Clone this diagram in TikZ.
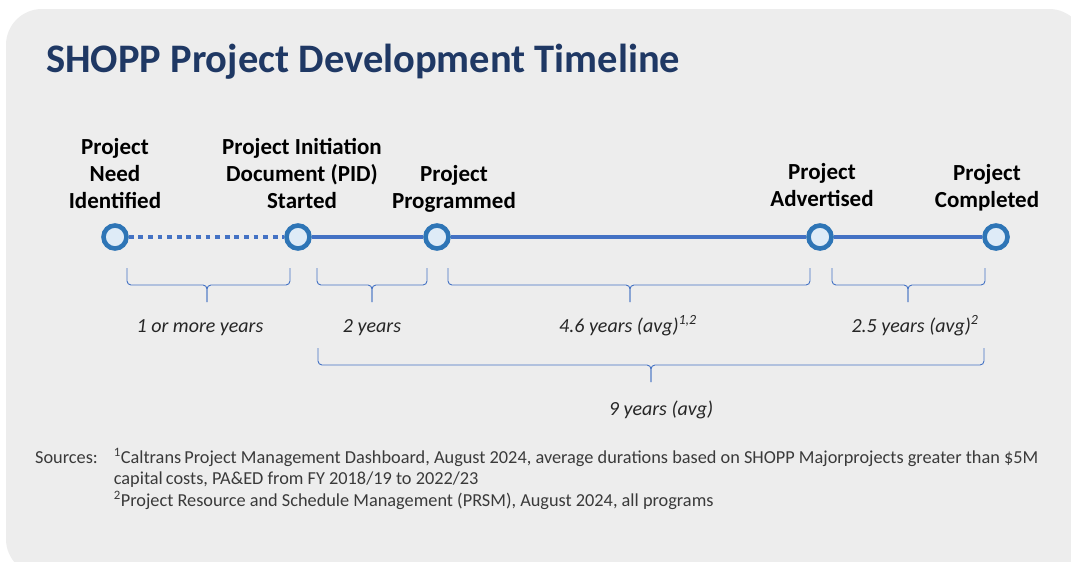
\documentclass[tikz,border=0pt]{standalone}
\usepackage{fontspec}
\setmainfont{Carlito}
\usetikzlibrary{positioning, backgrounds}

\definecolor{panelgray}{HTML}{EDEDED}
\definecolor{titleblue}{HTML}{1F3864}
\definecolor{lineblue}{HTML}{4472C4}
\definecolor{ringblue}{HTML}{2E75B6}
\definecolor{ringfill}{HTML}{DEEBF7}
\definecolor{notegray}{HTML}{3A3A3A}

\newcommand{\spanbrace}[5]{%
	\draw[brace] (#1,#4) -- (#1,#4+17) -- (#3,#4+17) -- (#3,#4+#5);
	\draw[brace] (#2,#4) -- (#2,#4+17) -- (#3,#4+17) -- (#3,#4+#5);
}

\begin{document}
\begin{tikzpicture}[
					x=1pt, y=-1pt,
					milestone/.style={circle, draw=ringblue, fill=ringfill, line width=4.6pt, minimum size=23pt, inner sep=0pt},
					mlabel/.style={font=\fontsize{23}{27}\selectfont\bfseries, align=center, inner sep=0pt, text depth=0pt},
					timeline/.style={draw=lineblue, line width=3.6pt},
					brace/.style={draw=lineblue, line width=0.9pt, rounded corners=4pt},
					span/.style={font=\fontsize{20}{22}\selectfont\itshape, text=black!85, inner sep=0pt}
					]
					\useasboundingbox (0,0) rectangle (1071,562);
					\node[anchor=base west, inner sep=0pt, font=\fontsize{40.5}{44}\selectfont\bfseries, text=titleblue] (title) at (46,72) {SHOPP Project Development Timeline};
					\node[milestone] (need) at (115,237) {};
					\node[milestone] (pid) at (298,237) {};
					\node[milestone] (prog) at (437,237) {};
					\node[milestone] (adv) at (820,237) {};
					\node[milestone] (done) at (996,237) {};
					\begin{scope}[on background layer]
						\fill[white] (0,0) rectangle (1071,562);
						\fill[panelgray, rounded corners=36pt] (6,9) rectangle (1085,575);
						\draw[timeline, dash pattern=on 4.8pt off 4.8pt] (need) -- (pid);
						\draw[timeline] (pid) -- (prog) -- (adv) -- (done);
					\end{scope}
					\node[mlabel, above=15pt of need] (needlabel) {Project\\Need\\Identified};
					\node[mlabel, above=15pt of pid, xshift=4pt] (pidlabel) {Project Initiation\\Document (PID)\\Started};
					\node[mlabel, above=15pt of prog, xshift=17pt] (proglabel) {Project\\Programmed};
					\node[mlabel, above=17pt of adv, xshift=2pt] (advlabel) {Project\\Advertised};
					\node[mlabel, above=16pt of done, xshift=-9pt] (donelabel) {Project\\Completed};
					\spanbrace{127}{290}{207}{268}{34}
					\spanbrace{317}{427}{372}{268}{34}
					\spanbrace{448}{810}{630}{268}{34}
					\spanbrace{832}{985}{908}{268}{34}
					\spanbrace{318}{984}{651}{348}{34}
					\node[span, anchor=base] (needspan) at (200,332) {1 or more years};
					\node[span, anchor=base] (pidspan) at (372,332) {2 years};
					\node[span, anchor=base] (progspan) at (628,332) {4.6 years (avg)\textsuperscript{1,2}};
					\node[span, anchor=base] (advspan) at (915,332) {2.5 years (avg)\textsuperscript{2}};
					\node[span, anchor=base] (totalspan) at (661,415) {9 years (avg)};
					\node[anchor=north west, inner sep=0pt, text=notegray, font=\fontsize{18.3}{21.5}\selectfont] (sources) at (35,448) {%
						\begin{tabular}{@{}l@{\hspace{16pt}}l@{}}
							Sources: & \textsuperscript{1}Caltrans\,Project Management Dashboard, August 2024, average durations based on SHOPP Majorprojects greater than \$5M\\
							& capital\,costs, PA\&ED from FY 2018/19 to 2022/23\\
							& \textsuperscript{2}Project Resource and Schedule Management (PRSM), August 2024, all programs
						\end{tabular}};
				\end{tikzpicture}
\end{document}
